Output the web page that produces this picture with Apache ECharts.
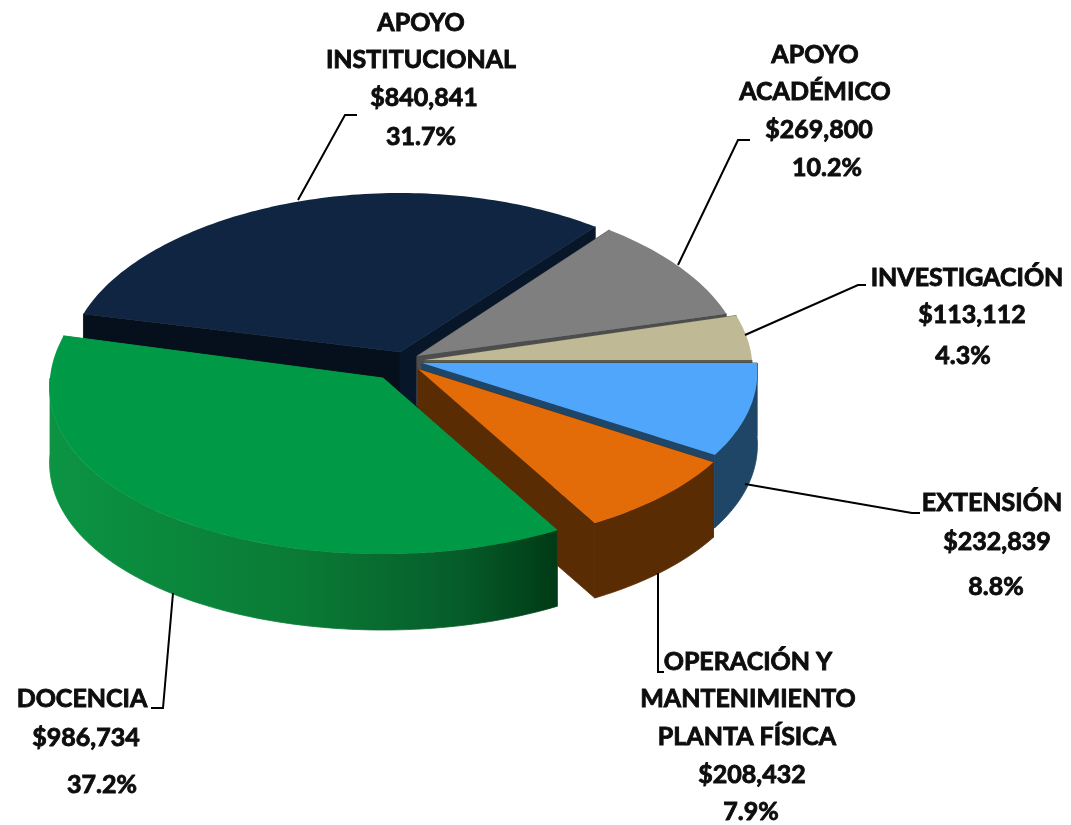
<!DOCTYPE html>
<html>
<head>
<meta charset="utf-8">
<title>Distribución</title>
<script src="https://cdn.jsdelivr.net/npm/echarts@6/dist/echarts.min.js"></script>
<style>
  html, body { margin: 0; padding: 0; background: #fff; }
  #chart { width: 1071px; height: 825px; }
</style>
</head>
<body>
<div id="chart"></div>
<script>
// clockwise from 3 o'clock
const categories = ['EXTENSIÓN', 'OPERACIÓN Y MANTENIMIENTO PLANTA FÍSICA', 'DOCENCIA', 'APOYO INSTITUCIONAL', 'APOYO ACADÉMICO', 'INVESTIGACIÓN'];
const amounts = [232839, 208432, 986734, 840841, 269800, 113112];
const percents = ['8.8%', '7.9%', '37.2%', '31.7%', '10.2%', '4.3%'];

// back slices first so the front ones overlap them
const drawOrder = [3, 4, 5, 0, 1, 2];

// exploded position of each slice on the tilted plane
const sliceGeo = [
  { cx: 422, cy: 363, rx: 335, ry: 175, depth: 73 },
  { cx: 418, cy: 369, rx: 338, ry: 178, depth: 75 },
  { cx: 383, cy: 378, rx: 333, ry: 176, depth: 76 },
  { cx: 400, cy: 352, rx: 330, ry: 159, depth: 72 },
  { cx: 417, cy: 356, rx: 325, ry: 160, depth: 50 },
  { cx: 425, cy: 360, rx: 327, ry: 168, depth: 50 }
];
const perspective = 0.05; // near side of the pie looks a bit wider
const topColors = ['#4fa6fb', '#e36c09', '#009a46', '#0f2542', '#7f7f7f', '#bfb995'];
const wallColors = ['#1f4567', '#5a2c04', '#0b9443', '#06101c', '#4d4d4d', '#5f5c4a'];

const total = amounts.reduce((a, b) => a + b, 0);
const angleStart = [];
let run = 0;
amounts.forEach(v => {
  angleStart.push(run / total * Math.PI * 2);
  run += v;
});

function arcPoints(g, a0, a1, dy) {
  const pts = [];
  const n = Math.max(2, Math.ceil((a1 - a0) / 0.02));
  for (let k = 0; k <= n; k++) {
    const t = a0 + (a1 - a0) * k / n;
    const s = Math.sin(t);
    pts.push([g.cx + g.rx * Math.cos(t) * (1 + perspective * s), g.cy + dy + g.ry * s]);
  }
  return pts;
}

function renderSlice(params, api) {
  const i = api.value(0);
  const g = sliceGeo[i];
  const a0 = angleStart[i];
  const a1 = a0 + api.value(1) / total * Math.PI * 2;
  const top = arcPoints(g, a0, a1, 0);
  const children = [];
  // radial walls
  [top[0], top[top.length - 1]].forEach((p, side) => {
    const fill = i === 3 && side === 1 ? '#071629' : wallColors[i];
    children.push({
      type: 'polygon',
      shape: { points: [[g.cx, g.cy], p, [p[0], p[1] + g.depth], [g.cx, g.cy + g.depth]] },
      style: { fill: fill, stroke: fill, lineWidth: 0.8 }
    });
  });
  // outer wall, only the part facing the viewer
  const w0 = Math.max(a0, 0);
  const w1 = Math.min(a1, Math.PI);
  if (w1 > w0) {
    const wallFill = i === 2
      ? new echarts.graphic.LinearGradient(0, 0, 1, 0, [
          { offset: 0, color: '#0b9443' },
          { offset: 0.5, color: '#0a7a35' },
          { offset: 0.8, color: '#065d2a' },
          { offset: 1, color: '#003a16' }
        ])
      : wallColors[i];
    children.push({
      type: 'polygon',
      shape: { points: arcPoints(g, w0, w1, 0).concat(arcPoints(g, w0, w1, g.depth).reverse()) },
      style: { fill: wallFill, stroke: wallFill, lineWidth: 0.8 }
    });
  }
  // top face
  children.push({
    type: 'polygon',
    shape: { points: [[g.cx, g.cy]].concat(top) },
    style: { fill: topColors[i] }
  });
  return { type: 'group', children };
}

// label lines: text, centre x, centre y
const labelLines = [
  ['APOYO', 421, 23], ['INSTITUCIONAL', 421, 60], ['$' + amounts[3].toLocaleString('en-US'), 424, 98], [percents[3], 421, 137],
  ['APOYO', 815, 55], ['ACADÉMICO', 815, 92], ['$' + amounts[4].toLocaleString('en-US'), 819, 130], [percents[4], 827, 168],
  ['INVESTIGACIÓN', 967, 278], ['$' + amounts[5].toLocaleString('en-US'), 972, 315], [percents[5], 963, 356],
  ['EXTENSIÓN', 992, 503], ['$' + amounts[0].toLocaleString('en-US'), 997, 542], [percents[0], 996, 587],
  ['OPERACIÓN Y', 748, 662], ['MANTENIMIENTO', 748, 699], ['PLANTA FÍSICA', 747, 737], ['$' + amounts[1].toLocaleString('en-US'), 752, 775], [percents[1], 751, 812],
  ['DOCENCIA', 82, 699], ['$' + amounts[2].toLocaleString('en-US'), 86, 738], [percents[2], 102, 785]
];
const leaderLines = [
  [[298, 200], [345, 115], [357, 115]],
  [[678, 265], [738, 140], [750, 140]],
  [[745, 335], [858, 285], [866, 285]],
  [[745, 484], [912, 513], [920, 513]],
  [[658, 573], [658, 672], [664, 672]],
  [[173, 593], [163, 708], [151, 708]]
];

const chart = echarts.init(document.getElementById('chart'), null, { renderer: 'canvas' });
chart.setOption({
  backgroundColor: '#fff',
  animation: false,
  series: [{
    type: 'custom',
    coordinateSystem: 'none',
    silent: true,
    renderItem: renderSlice,
    data: drawOrder.map(i => ({ name: categories[i], value: [i, amounts[i]] }))
  }],
  graphic: leaderLines.map(pts => ({
    type: 'polyline',
    z: 10,
    silent: true,
    shape: { points: pts },
    style: { stroke: '#000', lineWidth: 2, fill: null }
  })).concat(labelLines.map(l => ({
    type: 'text',
    z: 11,
    silent: true,
    x: l[1],
    y: l[2],
    style: {
      text: l[0],
      fill: '#0d0d0d',
      stroke: '#0d0d0d',
      lineWidth: 0.9,
      font: 'bold 25px Lato',
      align: 'center',
      verticalAlign: 'middle'
    }
  })))
});
</script>
</body>
</html>
